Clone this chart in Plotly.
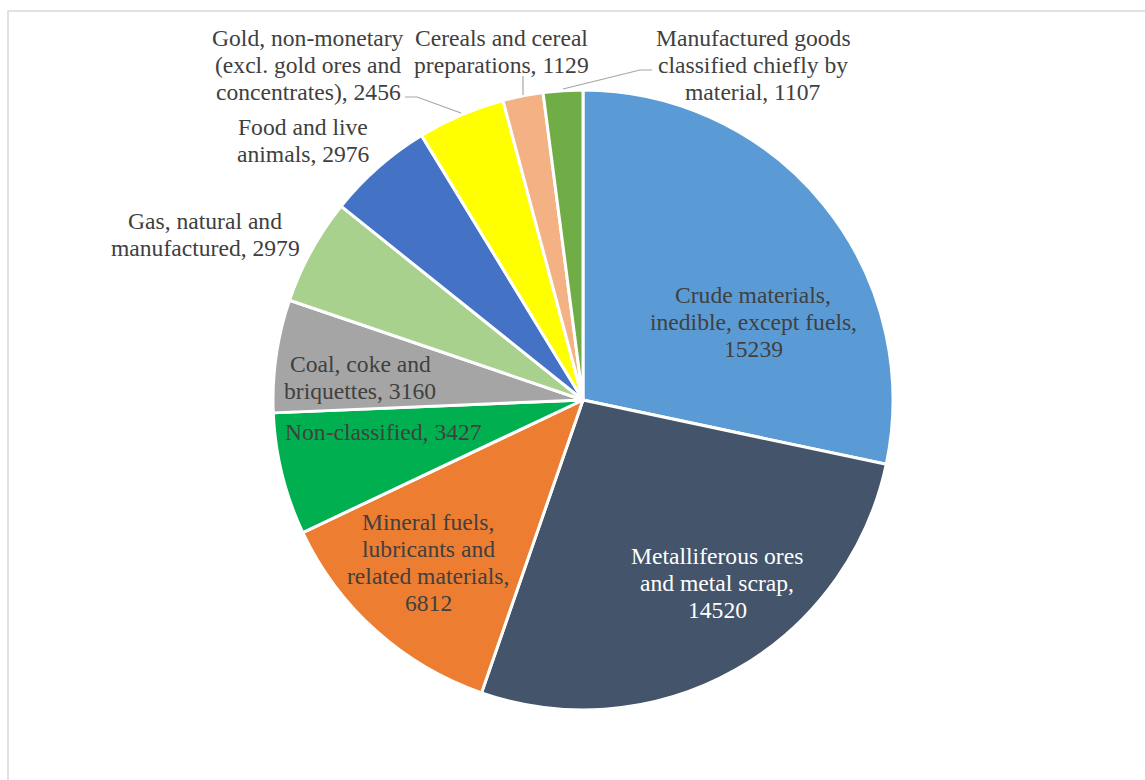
import plotly.graph_objects as go

W, H = 1145, 780

categories = [
    "Crude materials, inedible, except fuels",
    "Metalliferous ores and metal scrap",
    "Mineral fuels, lubricants and related materials",
    "Non-classified",
    "Coal, coke and briquettes",
    "Gas, natural and manufactured",
    "Food and live animals",
    "Gold, non-monetary (excl. gold ores and concentrates)",
    "Cereals and cereal preparations",
    "Manufactured goods classified chiefly by material",
]
values = [15239, 14520, 6812, 3427, 3160, 2979, 2976, 2456, 1129, 1107]
colors = ["#5B9BD5", "#44546A", "#ED7D31", "#00B050", "#A5A5A5",
          "#A9D18E", "#4472C4", "#FFFF00", "#F4B183", "#70AD47"]

# wrapped label text per slice ({v} is replaced by the slice value)
label_templates = [
    "Crude materials,\ninedible, except fuels,\n{v}",
    "Metalliferous ores\nand metal scrap,\n{v}",
    "Mineral fuels,\nlubricants and\nrelated materials,\n{v}",
    "Non-classified, {v}",
    "Coal, coke and\nbriquettes, {v}",
    "Gas, natural and\nmanufactured, {v}",
    "Food and live\nanimals, {v}",
    "Gold, non-monetary\n(excl. gold ores and\nconcentrates), {v}",
    "Cereals and cereal\npreparations, {v}",
    "Manufactured goods\nclassified chiefly by\nmaterial, {v}",
]
label_colors = ["#404040", "#FFFFFF"] + ["#404040"] * 8
# label anchor (centre x, centre y of first line) in pixels
label_pos = [(753, 295), (717, 556), (428, 522), (383, 432), (360, 364),
             (205, 221), (303, 127), (308, 38), (501, 38), (753, 38)]
LINE_H = 27

# pie geometry in pixels
CX, CY, R = 583, 400, 310


def px(x):
    return x / W


def py(y):
    return 1 - y / H


fig = go.Figure(go.Pie(
    labels=categories,
    values=values,
    sort=False,
    direction="clockwise",
    rotation=0,
    marker=dict(colors=colors, line=dict(color="white", width=3)),
    textinfo="none",
    hoverinfo="label+value",
    showlegend=False,
    domain=dict(x=[px(CX - R), px(CX + R)], y=[py(CY + R), py(CY - R)]),
))

annotations = []
for tpl, v, (x, y), col in zip(label_templates, values, label_pos, label_colors):
    for i, line in enumerate(tpl.format(v=v).split("\n")):
        annotations.append(dict(
            x=px(x), y=py(y + i * LINE_H), xref="paper", yref="paper",
            text=line, showarrow=False, xanchor="center", yanchor="middle",
            font=dict(family="Liberation Serif, Times New Roman, serif",
                      size=23.6, color=col),
        ))

shapes = [
    # chart area frame
    dict(type="rect", xref="paper", yref="paper",
         x0=px(8), x1=px(W + 10), y0=py(H + 10), y1=py(11),
         line=dict(color="#D9D9D9", width=1.5), fillcolor="rgba(0,0,0,0)",
         layer="below"),
]
# leader lines for the small slices at the top
leaders = [
    [(405, 97), (417, 97), (461, 113)],
    [(523, 76), (523, 95)],
    [(652, 70), (640, 70), (563, 89)],
]
for pts in leaders:
    path = "M " + " L ".join(f"{px(a)},{py(b)}" for a, b in pts)
    shapes.append(dict(type="path", xref="paper", yref="paper", path=path,
                       line=dict(color="#A6A6A6", width=1.2)))

fig.update_layout(
    width=W, height=H,
    margin=dict(l=0, r=0, t=0, b=0),
    paper_bgcolor="white",
    plot_bgcolor="white",
    annotations=annotations,
    shapes=shapes,
)

fig.write_html("out.html")
